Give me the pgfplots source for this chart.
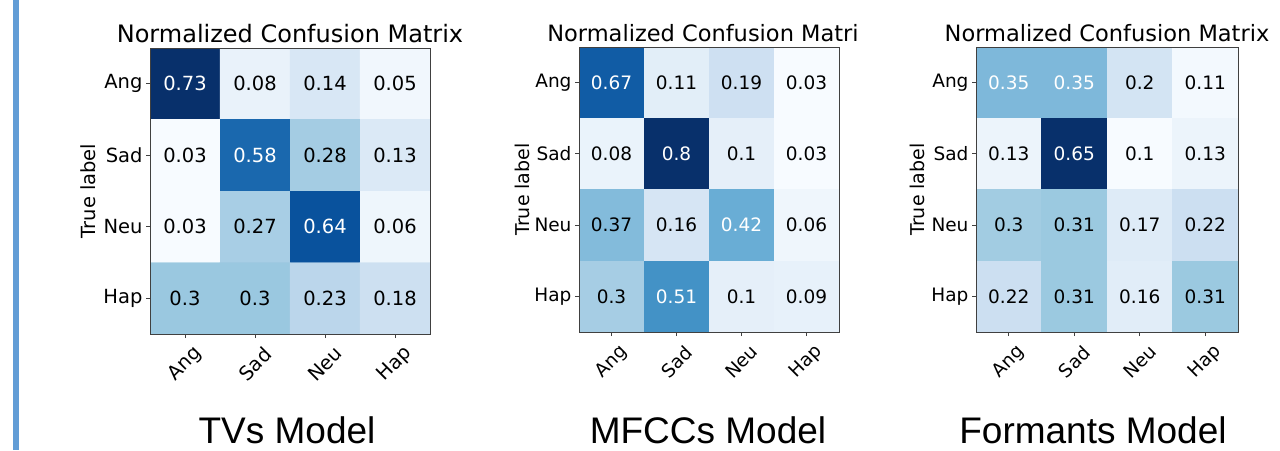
\documentclass[border=0pt]{standalone}
\usepackage{pgfplots}
\pgfplotsset{compat=1.18}
\usepackage{pgfplotstable}
\usepackage{fontspec}
\setmainfont{DejaVu Sans}
\newfontfamily\capfont{Liberation Sans}
\definecolor{barblue}{RGB}{98,157,214}

\pgfplotstableread{
x y v
0 0 0.73
1 0 0.08
2 0 0.14
3 0 0.05
0 1 0.03
1 1 0.58
2 1 0.28
3 1 0.13
0 2 0.03
1 2 0.27
2 2 0.64
3 2 0.06
0 3 0.3
1 3 0.3
2 3 0.23
3 3 0.18
}\tvs

\pgfplotstableread{
x y v
0 0 0.67
1 0 0.11
2 0 0.19
3 0 0.03
0 1 0.08
1 1 0.8
2 1 0.1
3 1 0.03
0 2 0.37
1 2 0.16
2 2 0.42
3 2 0.06
0 3 0.3
1 3 0.51
2 3 0.1
3 3 0.09
}\mfcc

\pgfplotstableread{
x y v
0 0 0.35
1 0 0.35
2 0 0.2
3 0 0.11
0 1 0.13
1 1 0.65
2 1 0.1
3 1 0.13
0 2 0.3
1 2 0.31
2 2 0.17
3 2 0.22
0 3 0.22
1 3 0.31
2 3 0.16
3 3 0.31
}\formants

\pgfplotsset{
  colormap={blues}{rgb255=(247,251,255) rgb255=(222,235,247) rgb255=(198,219,239) rgb255=(158,202,225) rgb255=(107,174,214) rgb255=(66,146,198) rgb255=(33,113,181) rgb255=(8,81,156) rgb255=(8,48,107)},
  cmstyle/.style={
    anchor=north west, scale only axis, axis on top,
    xmin=-0.5, xmax=3.5, ymin=-0.5, ymax=3.5, y dir=reverse,
    xtick={0,1,2,3}, ytick={0,1,2,3},
    xticklabels={Ang,Sad,Neu,Hap}, yticklabels={Ang,Sad,Neu,Hap},
    colormap name=blues,
    xtick pos=bottom, ytick pos=left, tick align=outside,
    major tick length=4pt,
    axis line style={black!75, line width=0.8pt},
    every tick/.style={black!75, line width=0.8pt},
    xticklabel style={yshift=-26pt, rotate=45, anchor=center},
    yticklabel style={anchor=east},
    ylabel={True label},
    every axis title/.style={at={(axis description cs:0.5,1)}, anchor=base, yshift=6pt},
  },
}

\begin{document}
\begin{tikzpicture}
\useasboundingbox (0,0) rectangle (1280pt,-450pt);
\fill[barblue] (13pt,0) rectangle (18.5pt,-450pt);

% Panel 1
\begin{axis}[cmstyle,
  at={(150pt,-48pt)}, width=280pt, height=286pt,
  point meta min=0.03, point meta max=0.73,
  title={Normalized Confusion Matrix},
  title style={font=\fontsize{24}{26}\selectfont},
  tick label style={font=\fontsize{19.5}{21}\selectfont},
  every axis y label/.style={at={([xshift=-62pt]axis description cs:0,0.5)}, rotate=90, anchor=center, font=\fontsize{19.5}{21}\selectfont},
]
\addplot[matrix plot*, mesh/cols=4, point meta=explicit] table[x=x, y=y, meta=v] {\tvs};
\addplot[draw=none, mark=none, point meta=explicit symbolic,
  nodes near coords={\ifdim\pgfplotspointmeta pt>0.365pt\color{white}\fi\pgfplotspointmeta},
  nodes near coords align=center,
  every node near coord/.style={font=\fontsize{19.5}{21}\selectfont, anchor=center}]
  table[x=x, y=y, meta=v] {\tvs};
\end{axis}

% Panel 2
\begin{axis}[cmstyle,
  at={(579pt,-47pt)}, width=260pt, height=285pt,
  point meta min=0.03, point meta max=0.8,
  title={Normalized Confusion Matri},
  title style={font=\fontsize{22.5}{24}\selectfont, xshift=-6pt},
  tick label style={font=\fontsize{18.5}{20}\selectfont},
  every axis y label/.style={at={([xshift=-57pt]axis description cs:0,0.5)}, rotate=90, anchor=center, font=\fontsize{19}{20}\selectfont},
]
\addplot[matrix plot*, mesh/cols=4, point meta=explicit] table[x=x, y=y, meta=v] {\mfcc};
\addplot[draw=none, mark=none, point meta=explicit symbolic,
  nodes near coords={\ifdim\pgfplotspointmeta pt>0.4pt\color{white}\fi\pgfplotspointmeta},
  nodes near coords align=center,
  every node near coord/.style={font=\fontsize{18.5}{20}\selectfont, anchor=center}]
  table[x=x, y=y, meta=v] {\mfcc};
\end{axis}

% Panel 3
\begin{axis}[cmstyle,
  at={(976pt,-47pt)}, width=262pt, height=285pt,
  point meta min=0.1, point meta max=0.65,
  title={Normalized Confusion Matrix},
  title style={font=\fontsize{22.5}{24}\selectfont},
  tick label style={font=\fontsize{18.5}{20}\selectfont},
  every axis y label/.style={at={([xshift=-59pt]axis description cs:0,0.5)}, rotate=90, anchor=center, font=\fontsize{19}{20}\selectfont},
]
\addplot[matrix plot*, mesh/cols=4, point meta=explicit] table[x=x, y=y, meta=v] {\formants};
\addplot[draw=none, mark=none, point meta=explicit symbolic,
  nodes near coords={\ifdim\pgfplotspointmeta pt>0.325pt\color{white}\fi\pgfplotspointmeta},
  nodes near coords align=center,
  every node near coord/.style={font=\fontsize{18.5}{20}\selectfont, anchor=center}]
  table[x=x, y=y, meta=v] {\formants};
\end{axis}

\node[anchor=base, font=\capfont\fontsize{37}{40}\selectfont, inner sep=0pt] at (287pt,-443pt) {TVs Model};
\node[anchor=base, font=\capfont\fontsize{37}{40}\selectfont, inner sep=0pt] at (708pt,-443pt) {MFCCs Model};
\node[anchor=base, font=\capfont\fontsize{37}{40}\selectfont, inner sep=0pt] at (1093pt,-443pt) {Formants Model};
\end{tikzpicture}
\end{document}
